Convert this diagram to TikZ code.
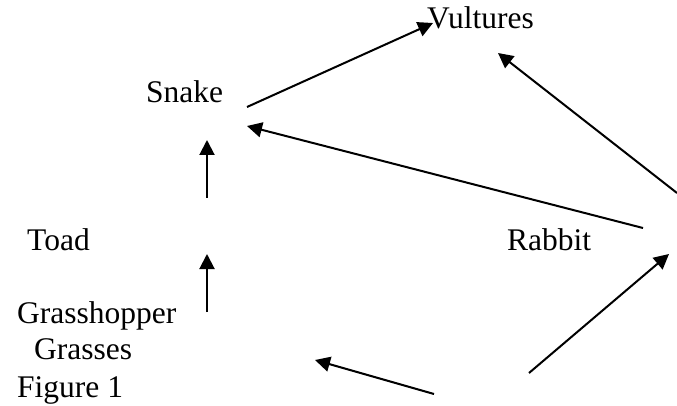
\documentclass[tikz,border=0pt]{standalone}
\usepackage{fontspec}
\setmainfont{Liberation Serif}
\usetikzlibrary{arrows.meta}

\tikzset{
  animal/.style={inner sep=0pt, anchor=base west, font=\fontsize{31.5}{38}\selectfont},
  eats/.style={-{Triangle[length=15pt,width=15pt]}, line width=2pt},
}

\begin{document}
\begin{tikzpicture}[x=1pt,y=-1pt]
\useasboundingbox (0,0) rectangle (677,406);

%Declare nodes.
\node[animal] (vultures) at (427,29) {Vultures};
\node[animal] (snake) at (146,103) {Snake};
\node[animal] (toad) at (27,250) {Toad};
\node[animal] (rabbit) at (507,250) {Rabbit};
\node[animal] (hopper) at (17,323) {Grasshopper};
\node[animal] (grasses) at (34,359) {Grasses};
\node[animal] (fig) at (17,397) {Figure 1};

%Declare arrow ends.
\coordinate (snakeout) at (247,107);
\coordinate (vultin) at (433,23);
\coordinate (rabbitout) at (643,228);
\coordinate (snakein) at (247,126);
\coordinate (edgeout) at (677,193);
\coordinate (vultin2) at (498,53);
\coordinate (upA) at (207,198);
\coordinate (upAtip) at (207,140);
\coordinate (upB) at (207,312);
\coordinate (upBtip) at (207,254);
\coordinate (lowout) at (434,394);
\coordinate (lowtip) at (315,360);
\coordinate (riseout) at (529,373);
\coordinate (risetip) at (669,254);

%Setup edges.
\draw[eats] (snakeout) -- (vultin);
\draw[eats] (rabbitout) -- (snakein);
\draw[eats] (edgeout) -- (vultin2);
\draw[eats] (upA) -- (upAtip);
\draw[eats] (upB) -- (upBtip);
\draw[eats] (lowout) -- (lowtip);
\draw[eats] (riseout) -- (risetip);

\end{tikzpicture}
\end{document}
